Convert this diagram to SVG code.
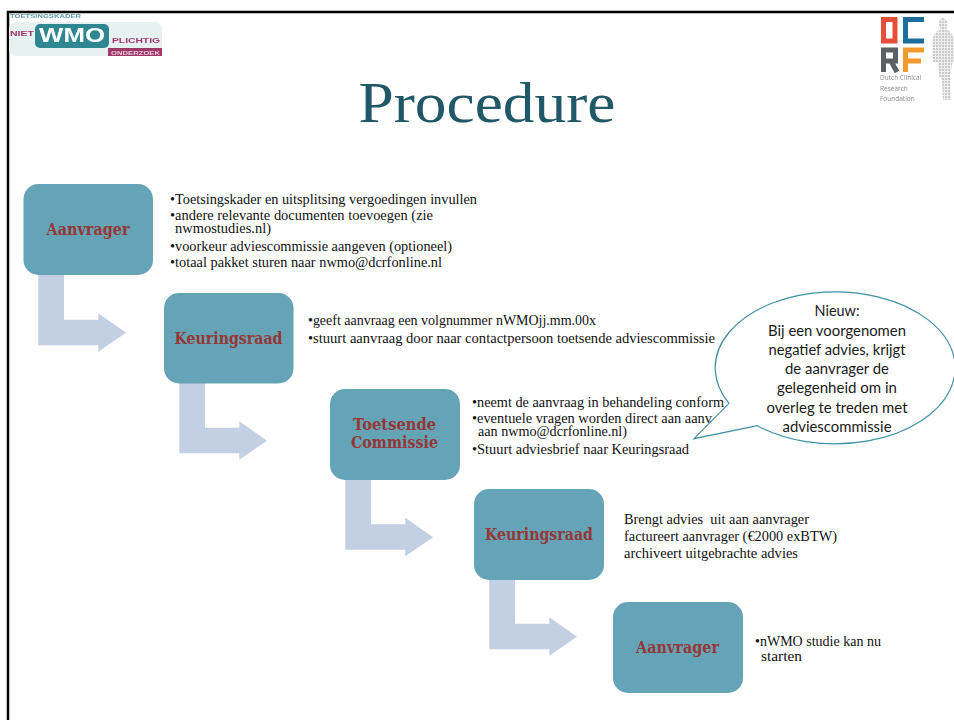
<svg xmlns="http://www.w3.org/2000/svg" width="954" height="720" viewBox="0 0 954 720">
<style>
.box{fill:#65a4b7}
.arrow{fill:#c3cfe3}
.t{font-family:"Liberation Serif","DejaVu Serif",serif;font-size:13.8px;fill:#111}
.n{font-family:"DejaVu Serif","Liberation Serif",serif;font-weight:bold;font-size:16.5px;fill:#953735;text-anchor:middle}
.c{font-family:Lato,"Open Sans",sans-serif;font-size:15.8px;fill:#1a1a1a;text-anchor:middle}
.lg{font-family:"Liberation Sans",Arial,sans-serif;font-weight:bold}
.d{font-family:"Open Sans",sans-serif;font-size:6.5px;fill:#8a8a8a}
</style>
<defs>
<path id="bent" d="M38.300 274.700H64V319.700H98.300V313.300L126 332.700L98.300 351.700V345.300H38.300Z"/>
<filter id="soft" x="-5%" y="-5%" width="110%" height="110%"><feGaussianBlur stdDeviation="0.45"/></filter>
<pattern id="speck" width="3" height="3" patternUnits="userSpaceOnUse"><rect width="3" height="3" fill="#ecedec"/><circle cx="1" cy="1" r="0.9" fill="#b9bbba"/></pattern>
</defs>
<rect width="954" height="720" fill="#fff"/>
<path d="M8 720V12H954" fill="none" stroke="#000" stroke-width="2.500"/>
<g id="logo-wmo" filter="url(#soft)">
<rect x="9" y="22" width="153" height="34" rx="7" fill="#e8f1f2"/>
<rect x="35" y="24" width="74" height="24" rx="5" fill="#2f8791"/>
<rect x="108" y="48" width="54" height="8" fill="#a0396a"/>
<text class="lg" x="10" y="18" font-size="5.500" fill="#5f9fb0" textLength="71" lengthAdjust="spacingAndGlyphs">TOETSINGSKADER</text>
<text class="lg" x="10" y="35.500" font-size="7.500" fill="#a0396a" textLength="24" lengthAdjust="spacingAndGlyphs">NIET</text>
<text class="lg" x="72" y="42" font-size="19.500" fill="#fff" text-anchor="middle" textLength="66" lengthAdjust="spacingAndGlyphs">WMO</text>
<text class="lg" x="112" y="43" font-size="8" fill="#a0396a" textLength="48" lengthAdjust="spacingAndGlyphs">PLICHTIG</text>
<text class="lg" x="111" y="54.500" font-size="5.500" fill="#e8c8d8" textLength="49" lengthAdjust="spacingAndGlyphs">ONDERZOEK</text>
</g>
<g id="logo-dcrf" filter="url(#soft)">
<path d="M883.500 19.500H895V41H883.500Z" fill="none" stroke="#e8503a" stroke-width="5"/>
<path d="M924 19.500H905.500V41H924" fill="none" stroke="#1f6c9c" stroke-width="5"/>
<path d="M883.500 72V50H895.500V61H883.500M891 61L897 72" fill="none" stroke="#5c5f63" stroke-width="5"/>
<path d="M905.500 72V50H924M905.500 61H921" fill="none" stroke="#f39a2d" stroke-width="5"/>
<text class="d" x="880" y="80">Dutch Clinical</text>
<text class="d" x="880" y="91">Research</text>
<text class="d" x="880" y="101">Foundation</text>
<path d="M942 18C948 18 949 25 946 29C951 31 954 36 954 44V60L952 64L950 76L951 100H943L942 80L939 76L938 62L933 62L932 44C932 36 936 31 941 29C938 25 938 19 942 18Z" fill="url(#speck)"/>
</g>
<text x="487" y="122" text-anchor="middle" font-family="'Liberation Serif','DejaVu Serif',serif" font-size="57" fill="#215868" textLength="257" lengthAdjust="spacingAndGlyphs">Procedure</text>
<g id="connectors">
<use href="#bent" class="arrow"/>
<use href="#bent" class="arrow" x="141" y="108"/>
<use href="#bent" class="arrow" x="307" y="204.500"/>
<use href="#bent" class="arrow" x="451" y="304"/>
</g>
<g id="node-aanvrager-1">
<rect class="box" x="23.500" y="184" width="129.500" height="91" rx="15"/>
<text class="n" x="88" y="235" textLength="83" lengthAdjust="spacingAndGlyphs">Aanvrager</text>
</g>
<g id="node-keuringsraad-1">
<rect class="box" x="164" y="293" width="129.500" height="90.500" rx="15"/>
<text class="n" x="228.500" y="343.500" textLength="108" lengthAdjust="spacingAndGlyphs">Keuringsraad</text>
</g>
<g id="node-toetsende-commissie">
<rect class="box" x="330" y="389" width="130" height="91" rx="15"/>
<text class="n" x="394.500" y="430" textLength="83" lengthAdjust="spacingAndGlyphs">Toetsende</text>
<text class="n" x="394.500" y="447.500" textLength="87" lengthAdjust="spacingAndGlyphs">Commissie</text>
</g>
<g id="node-keuringsraad-2">
<rect class="box" x="474" y="489" width="130" height="91" rx="15"/>
<text class="n" x="539" y="539.500" textLength="108" lengthAdjust="spacingAndGlyphs">Keuringsraad</text>
</g>
<g id="node-aanvrager-2">
<rect class="box" x="613" y="602" width="130" height="91" rx="15"/>
<text class="n" x="677.500" y="653" textLength="83" lengthAdjust="spacingAndGlyphs">Aanvrager</text>
</g>
<g id="text-1">
<text class="t" x="170" y="204" textLength="307" lengthAdjust="spacingAndGlyphs">•Toetsingskader en uitsplitsing vergoedingen invullen</text>
<text class="t" x="170" y="220" textLength="263" lengthAdjust="spacingAndGlyphs">•andere relevante documenten toevoegen (zie</text>
<text class="t" x="175" y="233" textLength="96" lengthAdjust="spacingAndGlyphs">nwmostudies.nl)</text>
<text class="t" x="170" y="251" textLength="282" lengthAdjust="spacingAndGlyphs">•voorkeur adviescommissie aangeven (optioneel)</text>
<text class="t" x="170" y="267" textLength="272" lengthAdjust="spacingAndGlyphs">•totaal pakket sturen naar nwmo@dcrfonline.nl</text>
</g>
<g id="text-2">
<text class="t" x="308" y="325" textLength="288" lengthAdjust="spacingAndGlyphs">•geeft aanvraag een volgnummer nWMOjj.mm.00x</text>
<text class="t" x="308" y="343" textLength="407" lengthAdjust="spacingAndGlyphs">•stuurt aanvraag door naar contactpersoon toetsende adviescommissie</text>
</g>
<g id="text-3">
<text class="t" x="472" y="407" textLength="252" lengthAdjust="spacingAndGlyphs">•neemt de aanvraag in behandeling conform</text>
<text class="t" x="472" y="423" textLength="240" lengthAdjust="spacingAndGlyphs">•eventuele vragen worden direct aan aanv</text>
<text class="t" x="478" y="436" textLength="149" lengthAdjust="spacingAndGlyphs">aan nwmo@dcrfonline.nl)</text>
<text class="t" x="472" y="454" textLength="217" lengthAdjust="spacingAndGlyphs">•Stuurt adviesbrief naar Keuringsraad</text>
</g>
<g id="text-4">
<text class="t" x="624" y="524" textLength="185" lengthAdjust="spacingAndGlyphs" xml:space="preserve">Brengt advies  uit aan aanvrager</text>
<text class="t" x="624" y="541" textLength="213" lengthAdjust="spacingAndGlyphs">factureert aanvrager (€2000 exBTW)</text>
<text class="t" x="624" y="558" textLength="174" lengthAdjust="spacingAndGlyphs">archiveert uitgebrachte advies</text>
</g>
<g id="text-5">
<text class="t" x="755" y="646" textLength="126" lengthAdjust="spacingAndGlyphs">•nWMO studie kan nu</text>
<text class="t" x="761" y="661" textLength="41" lengthAdjust="spacingAndGlyphs">starten</text>
</g>
<g id="callout">
<path d="M729 403.300A120 76 0 1 1 757.300 425.700L694 438.700Z" fill="#fff" stroke="#3f8fa5" stroke-width="1.200"/>
<text class="c" x="837" y="316" textLength="45" lengthAdjust="spacingAndGlyphs">Nieuw:</text>
<text class="c" x="837" y="336" textLength="138" lengthAdjust="spacingAndGlyphs">Bij een voorgenomen</text>
<text class="c" x="837" y="355" textLength="137" lengthAdjust="spacingAndGlyphs">negatief advies, krijgt</text>
<text class="c" x="837" y="374" textLength="104" lengthAdjust="spacingAndGlyphs">de aanvrager de</text>
<text class="c" x="837" y="393" textLength="120" lengthAdjust="spacingAndGlyphs">gelegenheid om in</text>
<text class="c" x="837" y="412.500" textLength="141" lengthAdjust="spacingAndGlyphs">overleg te treden met</text>
<text class="c" x="837" y="431.500" textLength="109" lengthAdjust="spacingAndGlyphs">adviescommissie</text>
</g>
</svg>
